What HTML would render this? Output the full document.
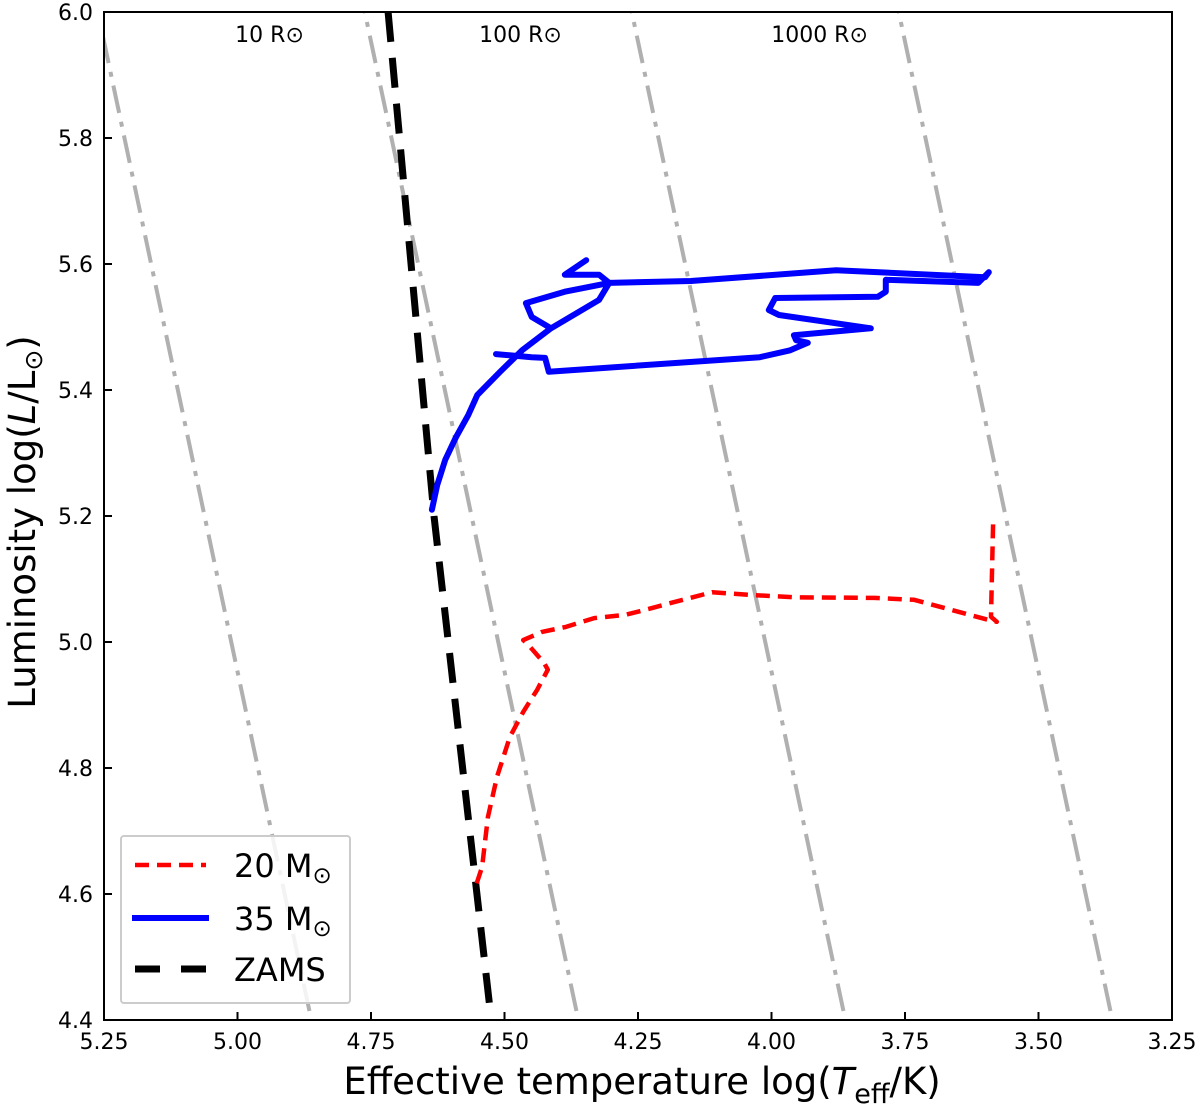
<!DOCTYPE html>
<html><head><meta charset="utf-8"><style>
html,body{margin:0;padding:0;background:#fff;}
svg{display:block;font-family:"DejaVu Sans","Liberation Sans",sans-serif;}
</style></head><body>
<svg id="chart" width="1200" height="1106" viewBox="0 0 1200 1106" xmlns="http://www.w3.org/2000/svg">
<defs><clipPath id="clip"><rect x="104" y="12" width="1068" height="1008"/></clipPath></defs>
<g id="plot" clip-path="url(#clip)"></g>
<g id="axes"></g>
</svg>
<script>
const xTicks = [5.25, 5.00, 4.75, 4.50, 4.25, 4.00, 3.75, 3.50, 3.25];
const xTickLabels = ["5.25","5.00","4.75","4.50","4.25","4.00","3.75","3.50","3.25"];
const yTicks = [4.4, 4.6, 4.8, 5.0, 5.2, 5.4, 5.6, 5.8, 6.0];
const yTickLabels = ["4.4","4.6","4.8","5.0","5.2","5.4","5.6","5.8","6.0"];
const radii = [1, 10, 100, 1000];
const radiusLabels = ["10 R⊙","100 R⊙","1000 R⊙"];
const radiusLabelT = [4.94, 4.47, 3.91];
const zamsT = [4.718, 4.632, 4.527];
const zamsL = [6.0, 5.2, 4.416];
const m20T = [4.552,4.542,4.531,4.514,4.490,4.465,4.439,4.419,4.426,4.458,4.465,4.430,4.385,4.332,4.274,4.237,4.184,4.111,4.044,3.956,3.808,3.733,3.593,3.578,3.589,3.585];
const m20L = [4.617,4.643,4.722,4.786,4.849,4.889,4.924,4.956,4.967,4.998,5.003,5.016,5.024,5.038,5.043,5.051,5.063,5.079,5.075,5.071,5.070,5.067,5.035,5.032,5.040,5.189];
const m35T = [4.636,4.626,4.611,4.591,4.568,4.551,4.508,4.467,4.413,4.323,4.304,4.323,4.387,4.347,null,
  4.413,4.449,4.460,4.387,4.304,4.151,3.879,3.600,3.593,3.613,3.786,3.786,3.801,3.993,4.005,3.986,3.814,3.958,3.954,3.932,3.965,4.022,4.417,4.424,4.449,4.516];
const m35L = [5.210,5.249,5.289,5.325,5.360,5.392,5.429,5.463,5.498,5.543,5.570,5.583,5.583,5.606,null,
  5.498,5.516,5.538,5.556,5.570,5.573,5.590,5.579,5.587,5.570,5.575,5.556,5.548,5.546,5.527,5.519,5.498,5.487,5.479,5.475,5.463,5.452,5.429,5.451,5.452,5.457];

const X0=104, X1=1172, Y0=12, Y1=1020;
const xMin=5.25, xMax=3.25, yMin=4.4, yMax=6.0;
const sx = t => X0 + (t - xMin) / (xMax - xMin) * (X1 - X0);
const sy = l => Y1 - (l - yMin) / (yMax - yMin) * (Y1 - Y0);
const NS = "http://www.w3.org/2000/svg";
const plot = document.getElementById('plot');
const axes = document.getElementById('axes');
function mk(tag, attrs, parent){ const e=document.createElementNS(NS,tag); for(const k in attrs) e.setAttribute(k,attrs[k]); parent.appendChild(e); return e; }
function pathFrom(T,L){ let d="", pen=false; for(let i=0;i<T.length;i++){ if(T[i]===null){pen=false;continue;} d+=(pen?"L":"M")+sx(T[i]).toFixed(1)+","+sy(L[i]).toFixed(1); pen=true;} return d; }

radii.forEach((r,i)=>{
  const lt = Math.log10(r);
  const tAt = L => 3.7617 + (L - 2*lt)/4;
  const p = mk('line',{x1:sx(tAt(yMax+0.2)),y1:sy(yMax+0.2),x2:sx(tAt(yMin-0.2)),y2:sy(yMin-0.2),stroke:'#b0b0b0','stroke-width':4,'stroke-dasharray':'28 9 5 9',fill:'none'},plot);
  
  
});
radiusLabels.forEach((s,i)=>{
  const t = mk('text',{x:sx(radiusLabelT[i]),y:42,'font-size':22,'text-anchor':'middle',fill:'#000'},axes);
  t.textContent = s;
  
  
});
const z = mk('path',{d:pathFrom(zamsT,zamsL),stroke:'#000','stroke-width':7,'stroke-dasharray':'30 16',fill:'none'},plot);


const b = mk('path',{d:pathFrom(m35T,m35L),stroke:'#0000ff','stroke-width':6,fill:'none','stroke-linejoin':'round','stroke-linecap':'round'},plot);


const rd = mk('path',{d:pathFrom(m20T,m20L),stroke:'#ff0000','stroke-width':4.5,'stroke-dasharray':'14 8',fill:'none','stroke-linejoin':'round'},plot);



const fr = mk('rect',{x:X0,y:Y0,width:X1-X0,height:Y1-Y0,fill:'none',stroke:'#000','stroke-width':2},axes);


xTicks.forEach((v,i)=>{
  const x=sx(v);
  const tk = mk('line',{x1:x,y1:Y1,x2:x,y2:Y1-8,stroke:'#000','stroke-width':2},axes);
  
  
  const t = mk('text',{x:x,y:1049,'font-size':22,'text-anchor':'middle'},axes);
  t.textContent = xTickLabels[i];
  
  
});
yTicks.forEach((v,i)=>{
  const y=sy(v);
  const tk = mk('line',{x1:X0,y1:y,x2:X0+8,y2:y,stroke:'#000','stroke-width':2},axes);
  
  
  const t = mk('text',{x:93,y:y+8,'font-size':22,'text-anchor':'end'},axes);
  t.textContent = yTickLabels[i];
  
  
});
</script>
<svg style="position:absolute;left:0;top:0" width="1200" height="1106" xmlns="http://www.w3.org/2000/svg">
<text x="642" y="1094" font-size="37" text-anchor="middle" font-family="DejaVu Sans, sans-serif">Effective temperature log(<tspan font-style="italic">T</tspan><tspan font-size="27" dy="9">eff</tspan><tspan dy="-9">/K)</tspan></text>
<text transform="translate(35,522) rotate(-90)" font-size="37" text-anchor="middle" font-family="DejaVu Sans, sans-serif">Luminosity  log(<tspan font-style="italic">L</tspan>/L<tspan font-size="25" dy="7">⊙</tspan><tspan dy="-7">)</tspan></text>
<g font-family="DejaVu Sans, sans-serif">
<rect x="121" y="836" width="229" height="167" rx="3" fill="#fff" fill-opacity="0.85" stroke="#cccccc" stroke-width="2"/>
<line x1="135" y1="865" x2="206" y2="865" stroke="#ff0000" stroke-width="4.5" stroke-dasharray="14 8"/>
<text x="234" y="877" font-size="32">20 M<tspan font-size="23" dy="6">⊙</tspan></text>
<line x1="132" y1="918" x2="209" y2="918" stroke="#0000ff" stroke-width="6"/>
<text x="234" y="930" font-size="32">35 M<tspan font-size="23" dy="6">⊙</tspan></text>
<line x1="135" y1="969" x2="206" y2="969" stroke="#000" stroke-width="7" stroke-dasharray="25 21"/>
<text x="234" y="981" font-size="32">ZAMS</text>
</g>
</svg>
</body></html>
